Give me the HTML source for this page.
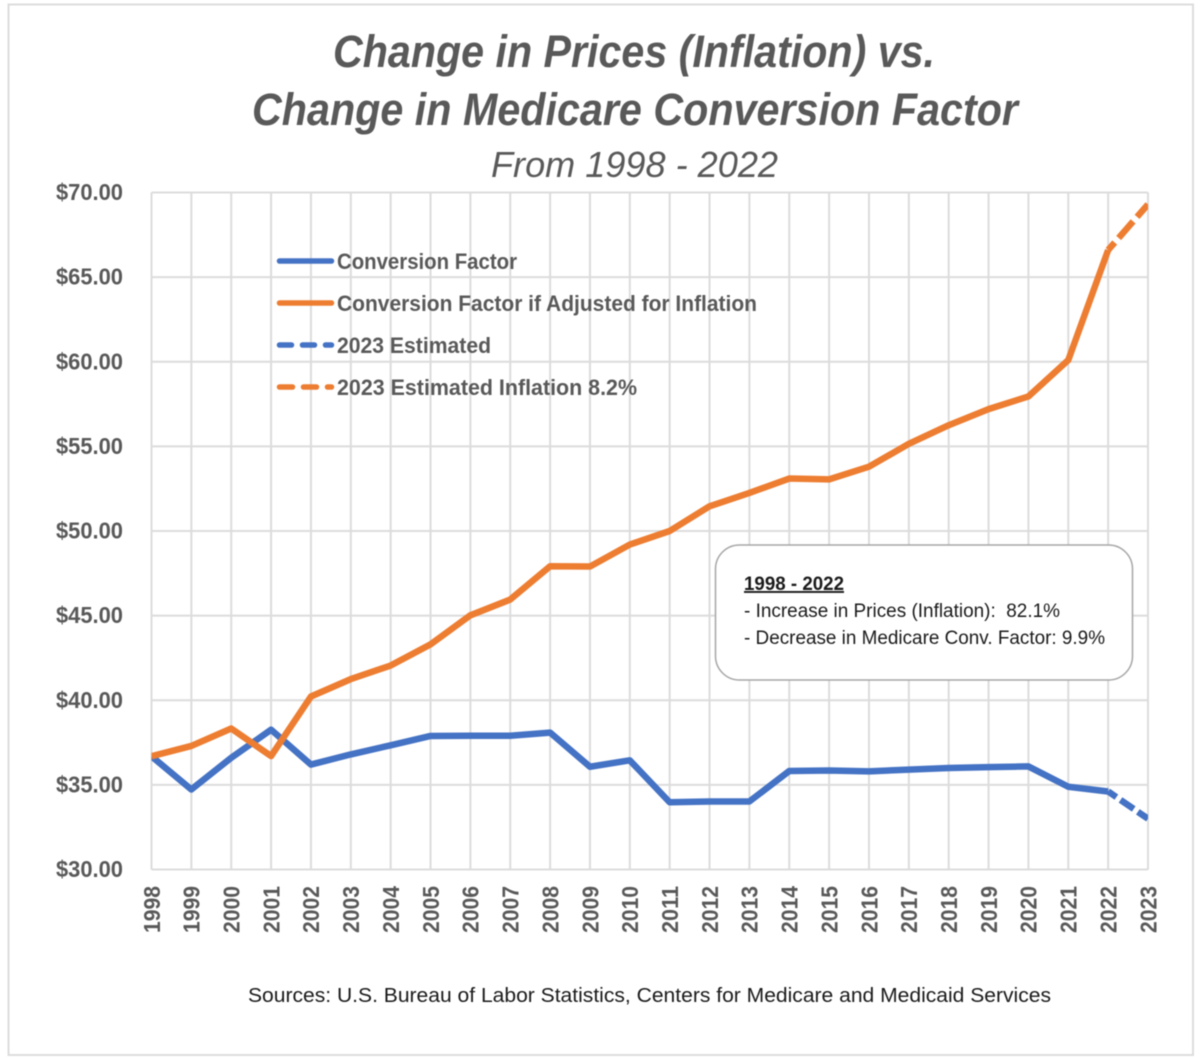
<!DOCTYPE html>
<html lang="en">
<head>
<meta charset="utf-8">
<title>Change in Prices (Inflation) vs. Change in Medicare Conversion Factor</title>
<style>
html,body{margin:0;padding:0;background:#fff;width:1200px;height:1059px;overflow:hidden}
svg{display:block;filter:blur(0.4px)}
text{font-family:"Liberation Sans",Arial,sans-serif}
</style>
</head>
<body>
<svg id="chart" xmlns="http://www.w3.org/2000/svg" width="1200" height="1059" viewBox="0 0 1200 1059">
  <defs>
    <clipPath id="plot-clip"><rect x="151.5" y="180" width="996.5" height="700"/></clipPath>
  </defs>
  <rect x="0" y="0" width="1200" height="1059" fill="#ffffff"/>
  <rect x="8.5" y="4.5" width="1184.5" height="1050.5" fill="#ffffff" stroke="#dcdcdc" stroke-width="2"/>

  <text x="333" y="67" font-size="45" font-weight="bold" font-style="italic" fill="#595959" textLength="602" lengthAdjust="spacingAndGlyphs">Change in Prices (Inflation) vs.</text>
  <text x="252" y="125" font-size="45" font-weight="bold" font-style="italic" fill="#595959" textLength="766" lengthAdjust="spacingAndGlyphs">Change in Medicare Conversion Factor</text>
  <text x="491" y="177" font-size="36" font-style="italic" fill="#595959" textLength="287" lengthAdjust="spacingAndGlyphs">From 1998 - 2022</text>

  <g id="grid"></g>
  <g id="y-axis"></g>
  <g id="x-axis"></g>
  <g id="series" clip-path="url(#plot-clip)"></g>

  <g>
    <g>
      <line x1="279.5" y1="261" x2="331.5" y2="261" stroke="#4472c4" stroke-width="5.5" stroke-linecap="round"/>
      <text x="337" y="269" font-size="22" font-weight="bold" fill="#595959" textLength="180" lengthAdjust="spacingAndGlyphs">Conversion Factor</text>
    </g>
    <g>
      <line x1="279.5" y1="303" x2="331.5" y2="303" stroke="#ed7d31" stroke-width="5.5" stroke-linecap="round"/>
      <text x="337" y="311" font-size="22" font-weight="bold" fill="#595959" textLength="420" lengthAdjust="spacingAndGlyphs">Conversion Factor if Adjusted for Inflation</text>
    </g>
    <g>
      <line x1="279.5" y1="345" x2="331.5" y2="345" stroke="#4472c4" stroke-width="5.5" stroke-linecap="round" stroke-dasharray="12 11"/>
      <text x="337" y="353" font-size="22" font-weight="bold" fill="#595959" textLength="154" lengthAdjust="spacingAndGlyphs">2023 Estimated</text>
    </g>
    <g>
      <line x1="279.5" y1="387" x2="331.5" y2="387" stroke="#ed7d31" stroke-width="5.5" stroke-linecap="round" stroke-dasharray="13 11"/>
      <text x="337" y="395" font-size="22" font-weight="bold" fill="#595959" textLength="300" lengthAdjust="spacingAndGlyphs">2023 Estimated Inflation 8.2%</text>
    </g>
  </g>

  <g>
    <rect x="715.5" y="545" width="417" height="135" rx="24" ry="24" fill="#ffffff" stroke="#a6a6a6" stroke-width="1.5"/>
    <text x="744" y="590" font-size="19" font-weight="bold" fill="#1a1a1a" text-decoration="underline" textLength="100" lengthAdjust="spacingAndGlyphs">1998 - 2022</text>
    <text x="744" y="617" font-size="19" fill="#1a1a1a" textLength="316" lengthAdjust="spacingAndGlyphs" xml:space="preserve">- Increase in Prices (Inflation):  82.1%</text>
    <text x="744" y="644" font-size="19" fill="#1a1a1a" textLength="361" lengthAdjust="spacingAndGlyphs">- Decrease in Medicare Conv. Factor: 9.9%</text>
  </g>

  <text x="248" y="1002" font-size="20" fill="#1a1a1a" textLength="803" lengthAdjust="spacingAndGlyphs">Sources: U.S. Bureau of Labor Statistics, Centers for Medicare and Medicaid Services</text>
</svg>

<script>
const years = ['1998','1999','2000','2001','2002','2003','2004','2005','2006','2007','2008','2009','2010','2011','2012','2013','2014','2015','2016','2017','2018','2019','2020','2021','2022','2023'];
const yTicks = [30, 35, 40, 45, 50, 55, 60, 65, 70];
const yTickLabels = ['$30.00','$35.00','$40.00','$45.00','$50.00','$55.00','$60.00','$65.00','$70.00'];
const conversionFactor = [36.69,34.73,36.60,38.26,36.20,36.80,37.34,37.89,37.90,37.90,38.09,36.07,36.45,33.97,34.02,34.02,35.82,35.85,35.80,35.90,36.00,36.05,36.09,34.89,34.61];
const adjustedForInflation = [36.69,37.30,38.33,36.70,40.22,41.25,42.05,43.30,45.02,45.95,47.92,47.90,49.20,50.00,51.46,52.25,53.10,53.05,53.80,55.15,56.25,57.20,57.95,60.10,66.60];
const estimated2023 = [34.61,33.00];
const estimatedInflation2023 = [66.60,69.30];

const NS = 'http://www.w3.org/2000/svg';
const left = 151.5, right = 1148, top_ = 192.5, bottom = 869.5;
const yMin = yTicks[0], yMax = yTicks[yTicks.length - 1];
function xScale(i) { return left + (right - left) * i / (years.length - 1); }
function yScale(v) { return bottom - (bottom - top_) * (v - yMin) / (yMax - yMin); }
function make(tag, attrs, parent) {
  const el = document.createElementNS(NS, tag);
  for (const k in attrs) el.setAttribute(k, attrs[k]);
  parent.appendChild(el);
  return el;
}
const grid = document.getElementById('grid');
const yAxis = document.getElementById('y-axis');
const xAxis = document.getElementById('x-axis');
const series = document.getElementById('series');

yTicks.forEach(function (t, i) {
  const y = yScale(t);
  const ln = make('line', {x1: left, x2: right, y1: y, y2: y, stroke: '#dcdcdc', 'stroke-width': 2}, grid);
  
  
  const tx = make('text', {x: 56, y: y + 7.5, 'font-size': 23.5, 'font-weight': 'bold', fill: '#595959', textLength: 67, lengthAdjust: 'spacingAndGlyphs'}, yAxis);
  
  
  tx.textContent = yTickLabels[i];
});

years.forEach(function (yr, i) {
  const x = xScale(i);
  const ln = make('line', {x1: x, x2: x, y1: top_, y2: bottom, stroke: '#dcdcdc', 'stroke-width': 2}, grid);
  
  
  const tx = make('text', {transform: 'translate(' + (x + 8.3) + ',933) rotate(-90)', 'font-size': 23, 'font-weight': 'bold', fill: '#595959', textLength: 47, lengthAdjust: 'spacingAndGlyphs'}, xAxis);
  
  
  tx.textContent = yr;
});

function drawLine(values, startIndex, color, dash, dashOffset) {
  const pts = values.map(function (v, i) { return xScale(i + startIndex).toFixed(2) + ',' + yScale(v).toFixed(2); }).join(' ');
  const attrs = {points: pts, fill: 'none', stroke: color, 'stroke-width': 6.5, 'stroke-linejoin': 'round', 'stroke-linecap': 'butt'};
  if (dash) { attrs['stroke-dasharray'] = dash; attrs['stroke-dashoffset'] = dashOffset; }
  return make('polyline', attrs, series);
}
const estBlue = drawLine(estimated2023, years.length - 2, '#4472c4', '16 5', 6);


const solidBlue = drawLine(conversionFactor, 0, '#4472c4');


const estOrange = drawLine(estimatedInflation2023, years.length - 2, '#ed7d31', '22 6', 12);


const solidOrange = drawLine(adjustedForInflation, 0, '#ed7d31');


</script>
</body>
</html>
